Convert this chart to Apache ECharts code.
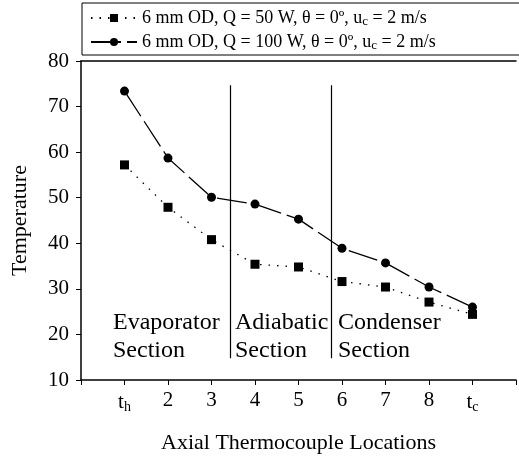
<!DOCTYPE html>
<html>
<head>
<meta charset="utf-8">
<script src="https://cdn.jsdelivr.net/npm/echarts@6/dist/echarts.min.js"></script>
<style>
  html, body { margin: 0; padding: 0; background: #fff; }
  #main { width: 519px; height: 461px; }
</style>
</head>
<body>
<div id="main"></div>
<script>
// thermocouple positions along the pipe (t_h .. t_c)
var locations = [1, 2, 3, 4, 5, 6, 7, 8, 9]
var tickLabels = ['{it|t}{sub|h}', '2', '3', '4', '5', '6', '7', '8', '{it|t}{sub|c}']
var temp50W = [57.2, 47.9, 40.8, 35.4, 34.8, 31.6, 30.4, 27.1, 24.4]
var temp100W = [73.4, 58.7, 50.1, 48.6, 45.3, 38.9, 35.7, 30.4, 26.0]
// section boundaries (x position) and vertical extent of the divider lines
var sectionBounds = [3.43, 5.75]
var boundRange = [14.8, 74.7]

var FONT = 'Liberation Serif'
var chartDom = document.getElementById('main')
var myChart = echarts.init(chartDom)

function pairs(ys) {
  return locations.map(function (x, i) { return [x, ys[i]] })
}

var subRich = {
  sub: { fontFamily: FONT, fontSize: 14, verticalAlign: 'bottom', padding: [10, 0, 0, 0] },
  it: { fontFamily: FONT, fontSize: 21 }
}

var option = {
  animation: false,
  legend: {
    orient: 'vertical',
    left: 82,
    top: 3,
    padding: [6, 160, 3, 8],
    itemGap: 5,
    itemWidth: 46,
    itemHeight: 10,
    borderColor: '#000',
    borderWidth: 1,
    textStyle: {
      fontFamily: FONT,
      fontSize: 18,
      color: '#000',
      rich: {
        t: { fontFamily: FONT, fontSize: 18, color: '#000' },
        sub: { fontFamily: FONT, fontSize: 13, color: '#000', padding: [7, 0, 0, 0] }
      }
    },
    formatter: function (name) {
      return '{t|' + name + ', θ = 0º, u}{sub|c}{t| = 2 m/s}'
    },
    data: ['6 mm OD, Q = 50 W', '6 mm OD, Q = 100 W']
  },
  grid: { left: 81, right: 0, top: 61, bottom: 81 },
  xAxis: [
    {
      type: 'value',
      min: 0,
      max: 10,
      interval: 1,
      name: 'Axial Thermocouple Locations',
      nameLocation: 'middle',
      nameGap: 52,
      nameTextStyle: { fontFamily: FONT, fontSize: 22, color: '#000' },
      axisLine: { lineStyle: { color: '#000', width: 1.5 } },
      axisTick: { length: 5, lineStyle: { color: '#000' } },
      splitLine: { show: false },
      axisLabel: {
        margin: 10,
        color: '#000',
        fontFamily: FONT,
        fontSize: 21,
        rich: subRich,
        formatter: function (v) {
          var i = locations.indexOf(v)
          return i < 0 ? '' : tickLabels[i]
        }
      }
    },
    {
      type: 'value',
      position: 'top',
      min: 0,
      max: 10,
      axisLine: { show: true, lineStyle: { color: '#000', width: 1.5 } },
      axisTick: { show: false },
      axisLabel: { show: false },
      splitLine: { show: false }
    }
  ],
  yAxis: {
    type: 'value',
    min: 10,
    max: 80,
    interval: 10,
    name: 'Temperature',
    nameLocation: 'middle',
    nameGap: 50,
    nameTextStyle: { fontFamily: FONT, fontSize: 22, color: '#000' },
    axisLine: { show: true, lineStyle: { color: '#000', width: 1.5 } },
    axisTick: { show: true, length: 5, lineStyle: { color: '#000' } },
    splitLine: { show: false },
    axisLabel: { margin: 12, color: '#000', fontFamily: FONT, fontSize: 21 }
  },
  series: [
    {
      name: '6 mm OD, Q = 50 W',
      type: 'line',
      symbol: 'rect',
      symbolSize: 9,
      itemStyle: { color: '#000' },
      lineStyle: { color: '#000', width: 1.3, type: [1.5, 7] },
      data: pairs(temp50W),
      markLine: {
        silent: true,
        symbol: 'none',
        label: { show: false },
        lineStyle: { color: '#000', width: 1.2, type: 'solid' },
        data: sectionBounds.map(function (x) {
          return [{ coord: [x, boundRange[0]] }, { coord: [x, boundRange[1]] }]
        })
      }
    },
    {
      name: '6 mm OD, Q = 100 W',
      type: 'line',
      symbol: 'circle',
      symbolSize: 9,
      itemStyle: { color: '#000' },
      lineStyle: { color: '#000', width: 1.3, type: [30, 6] },
      data: pairs(temp100W)
    }
  ],
  graphic: [
    { type: 'text', left: 113, top: 309, style: { text: 'Evaporator\nSection', font: '24px "Liberation Serif"', lineHeight: 28, fill: '#000' } },
    { type: 'text', left: 235, top: 309, style: { text: 'Adiabatic\nSection', font: '24px "Liberation Serif"', lineHeight: 28, fill: '#000' } },
    { type: 'text', left: 338, top: 309, style: { text: 'Condenser\nSection', font: '24px "Liberation Serif"', lineHeight: 28, fill: '#000' } }
  ]
}
option && myChart.setOption(option)
</script>
</body>
</html>
